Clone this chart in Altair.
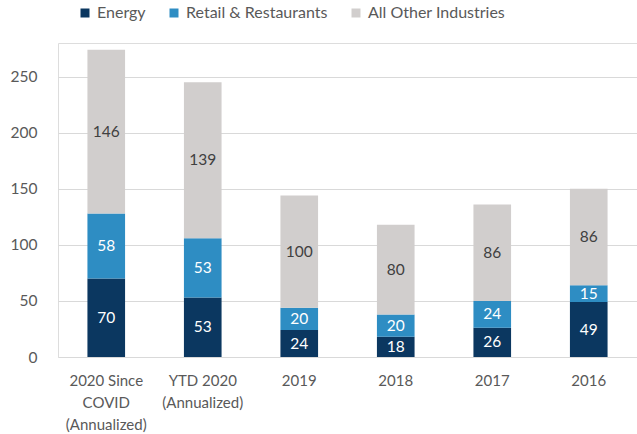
import altair as alt
import pandas as pd

categories = ["2020 Since|COVID|(Annualized)", "YTD 2020|(Annualized)", "2019", "2018", "2017", "2016"]
series = ["Energy", "Retail & Restaurants", "All Other Industries"]
energy = [70, 53, 24, 18, 26, 49]
retail = [58, 53, 20, 20, 24, 15]
other = [146, 139, 100, 80, 86, 86]
colors = ["#0B3760", "#2E8DC3", "#D1CECD"]
label_colors = ["white", "white", "#404040"]

rows = []
for s_i, (name, vals) in enumerate(zip(series, [energy, retail, other])):
    for c, v in zip(categories, vals):
        rows.append({"cat": c, "series": name, "value": v, "order": s_i,
                     "lc": label_colors[s_i]})
df = pd.DataFrame(rows)

FONT = "Lato"

base = alt.Chart(df).transform_stack(
    stack="value", groupby=["cat"], as_=["y0", "y1"],
    sort=[alt.SortField("order", order="ascending")]
).transform_calculate(mid="(datum.y0 + datum.y1) / 2")

x = alt.X("cat:N", sort=categories, title=None,
          scale=alt.Scale(paddingInner=0.61, paddingOuter=0.305),
          axis=alt.Axis(labelAngle=0, labelExpr="split(datum.label, '|')",
                        labelFontSize=15, labelColor="#595959", labelFont=FONT,
                        labelLineHeight=22, labelPadding=16, ticks=False,
                        domain=False, grid=False))

bars = base.mark_bar().encode(
    x=x,
    y=alt.Y("y0:Q", title=None,
            scale=alt.Scale(domain=[0, 280], nice=False),
            axis=alt.Axis(values=[0, 50, 100, 150, 200, 250], labelFontSize=15.5,
                          labelColor="#595959", labelFont=FONT, labelPadding=21,
                          ticks=False, domain=False, grid=True,
                          gridColor="#D9D9D9", gridWidth=1)),
    y2="y1:Q",
    color=alt.Color("series:N", sort=series,
                    scale=alt.Scale(domain=series, range=colors),
                    legend=alt.Legend(title=None, orient="none", direction="horizontal",
                                      legendX=19, legendY=-38, symbolType="square",
                                      symbolSize=81, symbolStrokeWidth=0,
                                      labelFontSize=16, labelFont=FONT,
                                      labelColor="#595959", columnPadding=20,
                                      labelOffset=4)),
)

texts = base.mark_text(fontSize=15.5, font=FONT).encode(
    x=alt.X("cat:N", sort=categories),
    y=alt.Y("mid:Q"),
    text="value:Q",
    color=alt.Color("lc:N", scale=None),
)

chart = alt.layer(bars, texts).properties(
    width=579, height=314,
    autosize=alt.AutoSizeParams(type="none"),
    padding={"left": 58, "top": 43, "right": 0, "bottom": 77},
).configure_view(stroke=None).configure(background="white")

chart.save("out.html", embed_options={"renderer": "svg", "actions": False})
